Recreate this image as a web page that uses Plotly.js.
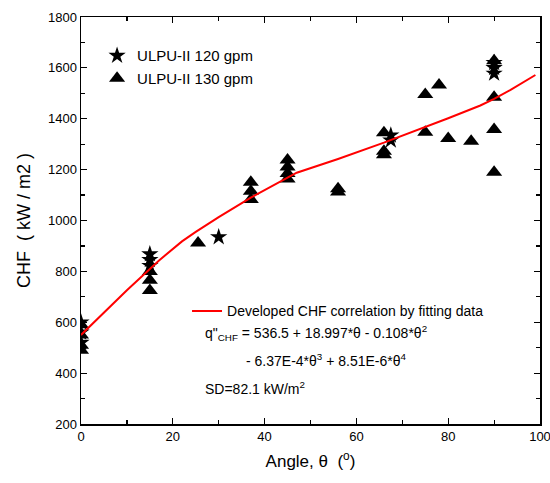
<!DOCTYPE html>
<html>
<head>
<meta charset="utf-8">
<script src="https://cdn.plot.ly/plotly-3.0.1.min.js"></script>
<style>html,body{margin:0;padding:0;background:#fff;}#chart{width:550px;height:483px;}</style>
</head>
<body>
<div id="chart"></div>
<script>
// ULPU-II 120 gpm (stars)
const star120_angle = [0, 0, 0, 15, 15, 15, 30, 67.5, 67.5, 90, 90, 90];
const star120_chf   = [600, 560, 520, 868, 845, 822, 935, 1335, 1315, 1620, 1600, 1578];
// ULPU-II 130 gpm (triangles)
const tri130_angle = [0, 0, 0, 0, 15, 15, 15, 25.5, 37, 37, 37, 45, 45, 45, 45, 56, 56, 66, 66, 66, 75, 75, 78, 80, 85, 90, 90, 90, 90];
const tri130_chf   = [590, 550, 510, 490, 800, 765, 725, 912, 1150, 1115, 1083, 1238, 1210, 1185, 1163, 1125, 1112, 1345, 1272, 1258, 1495, 1347, 1533, 1322, 1312, 1628, 1485, 1358, 1190];
// Developed CHF correlation
const fit_angle = [0, 10, 17, 22, 25, 30, 37, 47, 56, 66, 80, 87, 90, 93.5, 99];
const fit_chf   = [550, 726, 843, 918, 955, 1013, 1090, 1188, 1242, 1306, 1402, 1452, 1478, 1513, 1572];

const FONT = 'Liberation Sans, Arial, sans-serif';

const traces = [
  {x: star120_angle, y: star120_chf, type: 'scatter', mode: 'markers', name: 'ULPU-II 120 gpm',
   marker: {symbol: 'star', size: 13, color: '#000'}, legend: 'legend'},
  {x: tri130_angle, y: tri130_chf, type: 'scatter', mode: 'markers', name: 'ULPU-II 130 gpm',
   marker: {symbol: 'triangle-up', size: 14, color: '#000'}, legend: 'legend'},
  {x: fit_angle, y: fit_chf, type: 'scatter', mode: 'lines', name: 'Developed CHF correlation by fitting data',
   line: {color: '#ff0000', width: 2}, legend: 'legend2'}
];

const axisCommon = {
  showline: true, linecolor: '#000', linewidth: 1.5, mirror: 'ticks',
  ticks: 'inside', ticklen: 6, tickwidth: 1.2, tickcolor: '#000',
  showgrid: false, zeroline: false, ticklabeloverflow: 'allow',
  tickfont: {family: FONT, size: 13, color: '#000'}
};

const layout = {
  width: 550, height: 483,
  margin: {l: 81, r: 10, t: 17, b: 59},
  paper_bgcolor: '#fff', plot_bgcolor: '#fff',
  font: {family: FONT, color: '#000'},
  xaxis: Object.assign({}, axisCommon, {
    range: [0, 100], dtick: 20,
    minor: {dtick: 10, ticks: 'inside', ticklen: 4, tickcolor: '#000', tickwidth: 1.2},
    title: {text: 'Angle, θ  (<sup>o</sup>)', font: {family: FONT, size: 17, color: '#000'}, standoff: 12}
  }),
  yaxis: Object.assign({}, axisCommon, {
    range: [200, 1800], dtick: 200,
    minor: {dtick: 100, ticks: 'inside', ticklen: 4, tickcolor: '#000', tickwidth: 1.2},
    title: {text: 'CHF  ( kW / m2 )', font: {family: FONT, size: 18, color: '#000'}, standoff: 12}
  }),
  showlegend: true,
  legend: {x: 0.035, y: 0.945, xanchor: 'left', yanchor: 'top', bgcolor: 'rgba(0,0,0,0)',
           font: {family: FONT, size: 15, color: '#000'}, itemsizing: 'trace'},
  legend2: {x: 0.231, y: 0.316, xanchor: 'left', yanchor: 'top', bgcolor: 'rgba(0,0,0,0)',
            font: {family: FONT, size: 14, color: '#000'}},
  annotations: [
    {xref: 'paper', yref: 'paper', x: 0.266, y: 0.2236, xanchor: 'left', yanchor: 'middle', showarrow: false,
     text: 'q"<sub>CHF</sub> = 536.5 + 18.997*θ - 0.108*θ<sup>2</sup>', font: {family: FONT, size: 14, color: '#000'}},
    {xref: 'paper', yref: 'paper', x: 0.355, y: 0.157, xanchor: 'left', yanchor: 'middle', showarrow: false,
     text: '- 6.37E-4*θ<sup>3</sup> + 8.51E-6*θ<sup>4</sup>', font: {family: FONT, size: 14, color: '#000'}},
    {xref: 'paper', yref: 'paper', x: 0.266, y: 0.089, xanchor: 'left', yanchor: 'middle', showarrow: false,
     text: 'SD=82.1 kW/m<sup>2</sup>', font: {family: FONT, size: 14, color: '#000'}}
  ]
};

Plotly.newPlot('chart', traces, layout, {displayModeBar: false, staticPlot: true});
</script>
</body>
</html>
